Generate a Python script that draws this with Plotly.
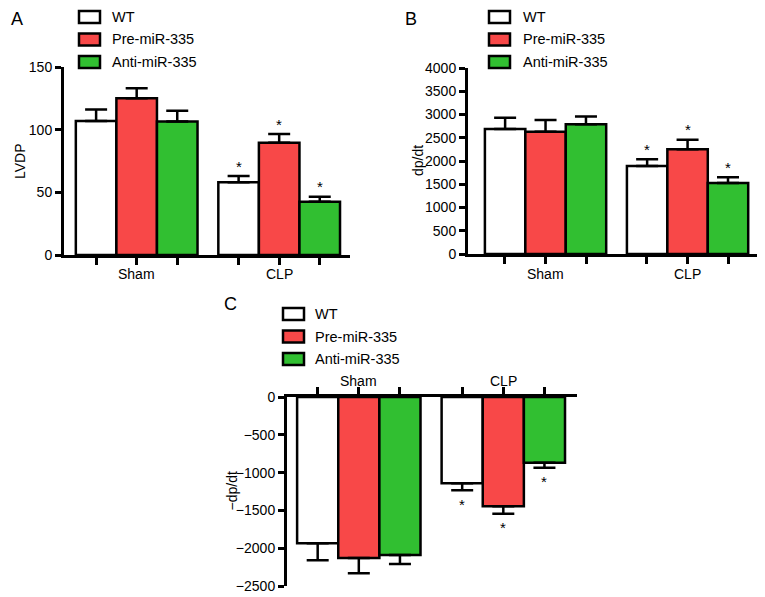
import plotly.graph_objects as go

groups = ["Sham", "CLP"]
series = ["WT", "Pre-miR-335", "Anti-miR-335"]
colors = ["#FFFFFF", "#F84848", "#31BF31"]

# Panel A: LVDP
lvdp = {"WT": [107, 58], "Pre-miR-335": [125, 89.5], "Anti-miR-335": [106.5, 42.5]}
lvdp_err = {"WT": [9, 5], "Pre-miR-335": [8, 7], "Anti-miR-335": [8.5, 4]}
lvdp_sig = {"WT": [False, True], "Pre-miR-335": [False, True], "Anti-miR-335": [False, True]}

# Panel B: dp/dt
dpdt = {"WT": [2690, 1895], "Pre-miR-335": [2630, 2255], "Anti-miR-335": [2790, 1525]}
dpdt_err = {"WT": [240, 140], "Pre-miR-335": [250, 200], "Anti-miR-335": [165, 125]}
dpdt_sig = {"WT": [False, True], "Pre-miR-335": [False, True], "Anti-miR-335": [False, True]}

# Panel C: -dp/dt
ndpdt = {"WT": [-1935, -1140], "Pre-miR-335": [-2130, -1445], "Anti-miR-335": [-2090, -870]}
ndpdt_err = {"WT": [225, 95], "Pre-miR-335": [200, 100], "Anti-miR-335": [120, 65]}
ndpdt_sig = {"WT": [False, True], "Pre-miR-335": [False, True], "Anti-miR-335": [False, True]}

W, H = 765, 597
OX, OY = 8, 8  # page body margin offset compensation
FONT = "Liberation Sans, Arial, Helvetica, sans-serif"


def px2x(x):
    return (x - OX) / W


def px2y(y):
    return 1 - (y - OY) / H


fig = go.Figure()

panels = [
    dict(key="", vals=lvdp, errs=lvdp_err, sig=lvdp_sig, px_x=(64, 350), px_y=(67, 255),
         yrange=[0, 150], dtick=50, xrange=[-0.51, 1.497], bargap=0.147, neg=False,
         title="LVDP", title_x=20, letter="A", letter_xy=(17, 8), legend_xy=(79, 11), text_x=110,
         glabel_y=274),
    dict(key="2", vals=dpdt, errs=dpdt_err, sig=dpdt_sig, px_x=(468, 760), px_y=(68, 254),
         yrange=[0, 4000], dtick=500, xrange=[-0.546, 1.51], bargap=0.14, neg=False,
         title="dp/dt", title_x=418, letter="B", letter_xy=(411, 8), legend_xy=(489, 11), text_x=521,
         glabel_y=274),
    dict(key="3", vals=ndpdt, errs=ndpdt_err, sig=ndpdt_sig, px_x=(287, 577), px_y=(397, 586),
         yrange=[-2500, 0], dtick=500, xrange=[-0.497, 1.51], bargap=0.146, neg=True,
         title="\u2212dp/dt", title_x=231, letter="C", letter_xy=(230, 293), legend_xy=(283, 308), text_x=313,
         glabel_y=381),
]

shapes = []
annotations = []

for p in panels:
    k = p["key"]
    xa = "x" + k
    ya = "y" + k
    bw = (1 - p["bargap"]) / 3
    offsets = [-bw, 0, bw]
    for i, s in enumerate(series):
        vals = p["vals"][s]
        errs = p["errs"][s]
        if p["neg"]:
            ey = dict(type="data", symmetric=False, array=[0] * len(errs), arrayminus=errs,
                      color="black", thickness=2.5, width=11)
        else:
            ey = dict(type="data", symmetric=False, array=errs, arrayminus=[0] * len(errs),
                      color="black", thickness=2.5, width=11)
        fig.add_trace(go.Bar(
            x=list(range(len(groups))), y=vals, name=s, xaxis=xa, yaxis=ya,
            marker=dict(color=colors[i], line=dict(color="black", width=2.5)),
            error_y=ey, showlegend=False, offsetgroup=str(i),
        ))
        for gi, (v, e, sg) in enumerate(zip(vals, errs, p["sig"][s])):
            if sg:
                annotations.append(dict(
                    x=gi + offsets[i], y=(v - e) if p["neg"] else (v + e),
                    xref=xa, yref=ya, text="*", showarrow=False,
                    xanchor="center", yanchor="middle",
                    yshift=-14 if p["neg"] else 10,
                    font=dict(family=FONT, size=15, color="black")))
    # axes
    x0, x1 = p["px_x"]
    yt, yb = p["px_y"]
    tickvals = []
    ticktext = []
    for gi, g in enumerate(groups):
        for j, o in enumerate(offsets):
            tickvals.append(gi + o)
            ticktext.append("")
    xaxis = dict(domain=[px2x(x0), px2x(x1)], range=p["xrange"], anchor=ya, automargin=False,
                 showline=True, linecolor="black", linewidth=3, showgrid=False, zeroline=False,
                 ticks="outside", tickvals=tickvals, ticktext=ticktext, ticklen=7, tickwidth=2.5,
                 tickcolor="black", fixedrange=True)
    if p["neg"]:
        xaxis["side"] = "top"
    yaxis = dict(domain=[px2y(yb), px2y(yt)], range=p["yrange"], anchor=xa, automargin=False,
                 showline=True, linecolor="black", linewidth=3, showgrid=False, zeroline=False,
                 ticks="outside", dtick=p["dtick"], ticklen=6, tickwidth=2.5, tickcolor="black",
                 tickfont=dict(family=FONT, size=14, color="black"),
                 tickformat="d", fixedrange=True)
    if p["neg"]:
        yaxis["tickvals"] = list(range(p["yrange"][0], 1, p["dtick"]))
        yaxis["ticktext"] = [("\u2212" + str(-v)) if v < 0 else str(v) for v in yaxis["tickvals"]]
    fig.update_layout({"xaxis" + k: xaxis, "yaxis" + k: yaxis})
    # group labels
    for gi, g in enumerate(groups):
        annotations.append(dict(
            x=gi, y=px2y(p["glabel_y"]), xref=xa, yref="paper", text=g, showarrow=False,
            xanchor="center", yanchor="middle",
            font=dict(family=FONT, size=14, color="black")))
    # axis title
    annotations.append(dict(
        x=px2x(p["title_x"]), y=px2y((yt + yb) / 2), xref="paper", yref="paper",
        text=p["title"], textangle=-90, showarrow=False, xanchor="center", yanchor="middle",
        font=dict(family=FONT, size=14, color="black")))
    # panel letter (top-anchored)
    lx, ly = p["letter_xy"]
    annotations.append(dict(
        x=px2x(lx), y=px2y(ly), xref="paper", yref="paper", text=p["letter"],
        showarrow=False, xanchor="center", yanchor="top", borderpad=0,
        font=dict(family=FONT, size=18, color="black")))
    # legend
    bx, by = p["legend_xy"]
    for i, s in enumerate(series):
        top = by + i * 22.5
        shapes.append(dict(type="rect", xref="paper", yref="paper",
                           x0=px2x(bx), x1=px2x(bx + 21), y0=px2y(top + 12), y1=px2y(top),
                           fillcolor=colors[i], line=dict(color="black", width=2.5)))
        annotations.append(dict(
            x=px2x(p["text_x"]), y=px2y(top + 6), xref="paper", yref="paper",
            text=s, showarrow=False, xanchor="left", yanchor="middle",
            font=dict(family=FONT, size=14.5, color="black")))

fig.update_layout(
    width=W, height=H, margin=dict(l=0, r=0, t=0, b=0, pad=0, autoexpand=False),
    paper_bgcolor="white", plot_bgcolor="white",
    barmode="group", bargap=0.146, bargroupgap=0,
    shapes=shapes, annotations=annotations,
    font=dict(family=FONT, size=14, color="black"),
)

fig.write_html("out.html")
